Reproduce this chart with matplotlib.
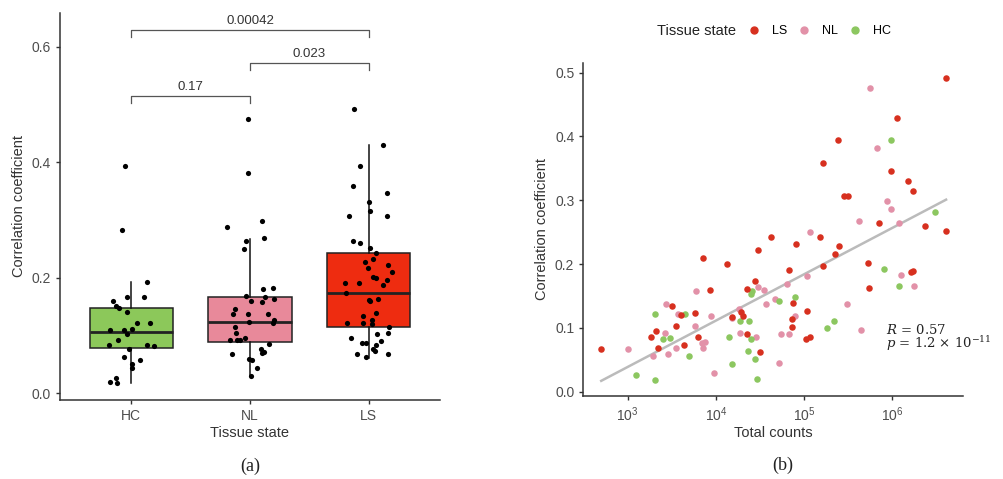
import numpy as np
import matplotlib
matplotlib.use("Agg")
import matplotlib.pyplot as plt
from matplotlib.lines import Line2D

plt.rcParams['font.family'] = ['Liberation Sans', 'DejaVu Sans']
plt.rcParams['mathtext.fontset'] = 'custom'
plt.rcParams['mathtext.rm'] = 'Liberation Sans'
plt.rcParams['mathtext.it'] = 'Liberation Sans:italic'

# ---------------- Panel (a) data ----------------
groups = ["HC", "NL", "LS"]
box_colors = ["#8CC85A", "#E8899A", "#EE2C10"]
box_q1 = [0.078, 0.089, 0.115]
box_med = [0.106, 0.123, 0.174]
box_q3 = [0.147, 0.166, 0.242]
box_lo = [0.018, 0.030, 0.061]
box_hi = [0.193, 0.267, 0.429]

hc_dx = [-0.05, -0.08, 0.13, -0.15, -0.04, 0.11, -0.13, -0.10, -0.04, 0.05, 0.16, -0.18, -0.06, 0.01,
         -0.04, -0.11, -0.19, 0.13, 0.19, -0.02, -0.06, 0.07, 0.01, 0.01, -0.18, -0.13, -0.12]
hc_y = [0.394, 0.282, 0.193, 0.159, 0.167, 0.167, 0.151, 0.147, 0.141, 0.121, 0.122, 0.110, 0.110, 0.111,
        0.102, 0.092, 0.083, 0.084, 0.082, 0.077, 0.063, 0.057, 0.051, 0.044, 0.020, 0.026, 0.018]
nl_dx = [-0.02, -0.02, -0.19, 0.10, -0.03, 0.12, -0.05, 0.11, 0.19, -0.03, 0.13, 0.20, 0.01, 0.10,
         -0.13, -0.14, -0.02, 0.15, -0.01, 0.20, 0.19, -0.13, -0.12, -0.17, -0.11, -0.04, 0.16, 0.09,
         0.12, 0.10, -0.15, -0.01, 0.02, 0.06, 0.01, -0.08]
nl_y = [0.475, 0.382, 0.287, 0.298, 0.263, 0.268, 0.250, 0.181, 0.183, 0.168, 0.166, 0.164, 0.159, 0.158,
        0.145, 0.137, 0.137, 0.137, 0.124, 0.127, 0.121, 0.115, 0.104, 0.093, 0.092, 0.095, 0.085, 0.077,
        0.072, 0.069, 0.068, 0.059, 0.057, 0.044, 0.030, 0.092]
ls_dx = [-0.12, 0.12, -0.07, -0.13, 0.15, 0.00, 0.01, -0.17, 0.15, -0.13, -0.07, 0.01, 0.06, -0.03,
         0.04, 0.16, -0.01, 0.20, 0.04, 0.06, 0.15, -0.20, -0.08, 0.12, -0.19, 0.00, 0.08, 0.01, 0.06,
         -0.05, 0.03, -0.18, -0.05, 0.03, 0.17, 0.07, 0.16, -0.15, -0.06, -0.02, 0.10, 0.06, 0.04, 0.05,
         -0.10, 0.16, -0.02]
ls_y = [0.492, 0.429, 0.394, 0.359, 0.346, 0.331, 0.315, 0.306, 0.306, 0.264, 0.260, 0.251, 0.242, 0.227,
        0.232, 0.222, 0.216, 0.210, 0.201, 0.200, 0.196, 0.190, 0.190, 0.188, 0.174, 0.162, 0.163, 0.159,
        0.139, 0.134, 0.126, 0.122, 0.121, 0.120, 0.114, 0.102, 0.104, 0.095, 0.087, 0.087, 0.091, 0.084,
        0.076, 0.074, 0.068, 0.068, 0.062]

brackets = [(1, 2, 0.515, "0.17"), (2, 3, 0.572, "0.023"), (1, 3, 0.629, "0.00042")]

# ---------------- Panel (b) data ----------------
ls_logx = [2.70, 6.61, 6.05, 5.38, 5.21, 5.99, 6.18, 6.23, 5.45, 5.50, 5.85, 6.37, 6.61, 4.63, 5.18,
           4.91, 5.40, 4.48, 5.35, 3.85, 4.13, 5.73, 5.21, 4.83, 6.23, 6.21, 4.44, 5.74, 3.93, 4.35,
           4.88, 3.50, 5.03, 4.29, 3.76, 3.60, 4.31, 4.18, 4.86, 3.55, 4.86, 3.26, 3.80, 3.32, 4.35,
           5.07, 5.02, 3.64, 3.34, 4.50]
ls_corr = [0.067, 0.492, 0.429, 0.394, 0.359, 0.346, 0.330, 0.315, 0.306, 0.306, 0.264, 0.260, 0.252,
           0.243, 0.242, 0.232, 0.228, 0.222, 0.216, 0.210, 0.200, 0.201, 0.197, 0.191, 0.189, 0.187,
           0.174, 0.163, 0.159, 0.161, 0.139, 0.134, 0.127, 0.125, 0.123, 0.120, 0.119, 0.117, 0.114,
           0.103, 0.102, 0.086, 0.086, 0.095, 0.091, 0.086, 0.082, 0.073, 0.068, 0.062]
nl_logx = [5.75, 5.83, 5.94, 5.98, 5.62, 6.08, 5.07, 5.03, 6.10, 6.25, 4.81, 3.77, 4.54, 4.48, 3.44,
           4.57, 4.67, 5.49, 3.94, 3.57, 4.26, 4.90, 4.18, 3.76, 3.42, 4.27, 4.74, 4.83, 5.65, 4.45,
           3.00, 3.55, 3.84, 3.88, 3.85, 3.29, 3.46, 4.71, 3.98]
nl_corr = [0.476, 0.382, 0.298, 0.287, 0.268, 0.264, 0.250, 0.181, 0.183, 0.165, 0.168, 0.158, 0.159,
           0.164, 0.137, 0.138, 0.146, 0.137, 0.119, 0.122, 0.129, 0.118, 0.115, 0.103, 0.092, 0.092,
           0.091, 0.091, 0.096, 0.085, 0.067, 0.069, 0.077, 0.078, 0.069, 0.056, 0.059, 0.045, 0.030]
hc_logx = [5.99, 6.49, 5.91, 6.08, 4.90, 4.72, 4.41, 4.40, 3.31, 3.65, 4.27, 4.38, 5.34, 5.26, 3.40,
           3.48, 4.15, 4.40, 3.70, 4.36, 4.44, 4.18, 3.09, 3.31, 4.47]
hc_corr = [0.394, 0.282, 0.193, 0.166, 0.148, 0.142, 0.157, 0.153, 0.122, 0.121, 0.111, 0.111, 0.111,
           0.100, 0.082, 0.084, 0.085, 0.082, 0.056, 0.063, 0.052, 0.044, 0.026, 0.018, 0.020]

scatter_colors = {"LS": "#D7301F", "NL": "#E291A8", "HC": "#8CC760"}
fit_logx_range = [2.70, 6.61]
fit_slope = 0.0726
fit_intercept = -0.179
r_text = r"$R$ = 0.57"
p_text = r"$p$ = 1.2 × 10$^{-11}$"

# ---------------- Figure ----------------
fig = plt.figure(figsize=(10.04, 4.79), dpi=100)
ax1 = fig.add_axes([0.0598, 0.1649, 0.3784, 0.808])
ax2 = fig.add_axes([0.581, 0.1733, 0.378, 0.6952])

spine_c = "#333333"
tick_c = "#4D4D4D"
for ax in (ax1, ax2):
    for s in ("top", "right"):
        ax.spines[s].set_visible(False)
    for s in ("left", "bottom"):
        ax.spines[s].set_color(spine_c)
        ax.spines[s].set_linewidth(1.1)
    ax.tick_params(axis="both", colors=spine_c, labelcolor=tick_c, labelsize=10, length=3, width=1.0)

# Panel (a)
stats = []
for i, g in enumerate(groups):
    stats.append(dict(label=g, med=box_med[i], q1=box_q1[i], q3=box_q3[i],
                      whislo=box_lo[i], whishi=box_hi[i], fliers=[]))
pos = np.arange(1, len(groups) + 1)
bp = ax1.bxp(stats, positions=pos, widths=0.7, patch_artist=True, showfliers=False, showcaps=False,
             boxprops=dict(edgecolor="#222222", linewidth=1.1),
             whiskerprops=dict(color="#111111", linewidth=1.1),
             medianprops=dict(color="#222222", linewidth=2.0), zorder=2)
for patch, c in zip(bp["boxes"], box_colors):
    patch.set_facecolor(c)

for k, (dx, yy) in enumerate([(hc_dx, hc_y), (nl_dx, nl_y), (ls_dx, ls_y)]):
    ax1.scatter(pos[k] + np.array(dx), yy, s=14, color="black", zorder=3, linewidths=0)

for a, b, h, lab in brackets:
    ax1.plot([a, a, b, b], [h - 0.013, h, h, h - 0.013], color="#555555", lw=0.9, zorder=1)
    ax1.text((a + b) / 2, h + 0.004, lab, ha="center", va="bottom", fontsize=9.5, color="#333333")

ax1.set_xlim(0.4, 3.6)
ax1.set_ylim(-0.0116, 0.658)
ax1.set_xticks(pos)
ax1.set_xticklabels(groups)
ax1.set_yticks([0.0, 0.2, 0.4, 0.6])
ax1.set_yticklabels(["0.0", "0.2", "0.4", "0.6"])
ax1.set_xlabel("Tissue state", fontsize=10.5, color="#333333", labelpad=2)
ax1.set_ylabel("Correlation coefficient", fontsize=10.5, color="#333333", labelpad=4)

# Panel (b)
for name, lx, cy in [("NL", nl_logx, nl_corr), ("HC", hc_logx, hc_corr), ("LS", ls_logx, ls_corr)]:
    ax2.scatter(10 ** np.array(lx), cy, s=22, color=scatter_colors[name], linewidths=0, zorder=3)
fx = np.linspace(fit_logx_range[0], fit_logx_range[1], 50)
ax2.plot(10 ** fx, fit_intercept + fit_slope * fx, color="#BBBBBB", lw=1.8, zorder=2)

ax2.set_xscale("log")
ax2.set_xlim(10 ** 2.497, 10 ** 6.80)
ax2.set_ylim(-0.0067, 0.515)
ax2.set_xticks([1e3, 1e4, 1e5, 1e6])
ax2.set_xticklabels([r"$10^{3}$", r"$10^{4}$", r"$10^{5}$", r"$10^{6}$"])
ax2.xaxis.set_minor_locator(matplotlib.ticker.NullLocator())
ax2.set_yticks([0.0, 0.1, 0.2, 0.3, 0.4, 0.5])
ax2.set_yticklabels(["0.0", "0.1", "0.2", "0.3", "0.4", "0.5"])
ax2.set_xlabel("Total counts", fontsize=10.5, color="#333333", labelpad=2)
ax2.set_ylabel("Correlation coefficient", fontsize=10.5, color="#333333", labelpad=4)

# R / p annotation as one two-line text (last baseline at ~348 px)
ax2.text(10 ** 5.925, 0.0685, r_text + "\n" + p_text, fontsize=9.5, family="DejaVu Serif",
         math_fontfamily="dejavuserif", va="baseline", ha="left", color="#222222", linespacing=0.78)

# Legend
fig.text(657 / 1004, 1 - 31 / 479, "Tissue state", fontsize=10.5, color="#222222", va="center", ha="left")
handles = [Line2D([], [], marker="o", ls="", color=scatter_colors[n], markersize=5) for n in ["LS", "NL", "HC"]]
fig.legend(handles, ["LS", "NL", "HC"], ncol=3, loc="center left",
           bbox_to_anchor=(748 / 1004, 1 - 31 / 479), frameon=False, fontsize=9,
           handlelength=1.0, handletextpad=0.9, columnspacing=0.9, borderpad=0, borderaxespad=0)

# Panel labels
fig.text(250 / 1004, 1 - 466 / 479, "(a)", fontsize=13, family="Liberation Serif", ha="center", va="center", color="#222222")
fig.text(783 / 1004, 1 - 465 / 479, "(b)", fontsize=13, family="Liberation Serif", ha="center", va="center", color="#222222")

fig.savefig("out.png", dpi=100)
